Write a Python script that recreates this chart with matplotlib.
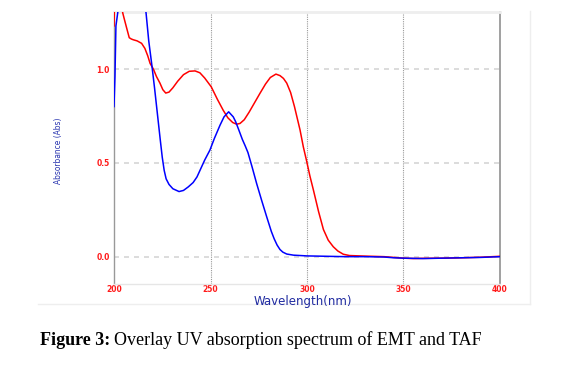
import matplotlib.pyplot as plt
from matplotlib.lines import Line2D

# Blue curve (EMT) - wavelength, nm / absorbance
emt_wl = [200.0, 200.5, 201.0, 202.2, 204.0, 208.0, 212.0, 215.0, 216.6, 218.0,
          219.5, 221.0, 222.5, 224.0, 225.0, 226.0, 227.0, 228.5, 230.5, 233.7,
          236.0, 238.5, 241.0, 243.0, 245.0, 247.0, 249.7, 252.0, 254.9, 257.0,
          259.4, 261.8, 263.0, 264.5, 266.5, 268.0, 269.4, 271.5, 273.9, 276.5,
          279.1, 281.5, 283.0, 284.5, 286.0, 287.5, 289.5, 293.0, 300.0, 310.0,
          320.0, 330.0, 340.0, 345.0, 350.0, 360.0, 370.0, 380.0, 390.0, 400.0]
emt_abs = [0.80, 0.96, 1.23, 1.32, 1.50, 1.60, 1.55, 1.40, 1.30, 1.15,
           1.03, 0.90, 0.76, 0.62, 0.53, 0.46, 0.415, 0.385, 0.362, 0.347,
           0.353, 0.372, 0.395, 0.425, 0.47, 0.515, 0.568, 0.63, 0.70, 0.745,
           0.772, 0.745, 0.72, 0.68, 0.625, 0.59, 0.555, 0.48, 0.39, 0.30,
           0.213, 0.135, 0.095, 0.062, 0.038, 0.024, 0.014, 0.008, 0.004, 0.002,
           0.0, 0.0, -0.002, -0.006, -0.008, -0.01, -0.008, -0.006, -0.004, 0.0]

# Red curve (TAF)
taf_wl = [200.0, 200.3, 202.0, 203.5, 204.5, 205.5, 206.6, 207.9, 209.0, 210.0,
          212.0, 214.3, 216.0, 217.5, 218.7, 220.4, 222.0, 223.8, 225.3, 226.8,
          228.5, 230.5, 233.0, 236.0, 239.0, 242.0, 244.5, 247.0, 250.4, 253.5,
          256.6, 259.0, 261.5, 263.5, 265.3, 267.5, 270.0, 272.8, 275.6, 278.5,
          281.0, 283.9, 286.0, 287.8, 289.5, 291.5, 293.5, 296.4, 298.1, 299.8,
          301.5, 303.3, 306.0, 308.5, 311.0, 313.6, 316.0, 318.8, 322.0, 330.0,
          340.0, 345.0, 350.0, 355.0, 360.0, 370.0, 380.0, 390.0, 400.0]
taf_abs = [1.23, 1.35, 1.55, 1.45, 1.30, 1.26, 1.217, 1.167, 1.16, 1.156,
           1.15, 1.137, 1.11, 1.07, 1.03, 1.00, 0.96, 0.925, 0.89, 0.872,
           0.877, 0.90, 0.935, 0.97, 0.988, 0.99, 0.98, 0.952, 0.905, 0.84,
           0.78, 0.74, 0.715, 0.706, 0.71, 0.73, 0.77, 0.82, 0.87, 0.92,
           0.955, 0.973, 0.965, 0.95, 0.925, 0.875, 0.80, 0.675, 0.585, 0.51,
           0.43, 0.356, 0.24, 0.145, 0.088, 0.053, 0.03, 0.013, 0.006, 0.003,
           0.0, -0.004, -0.008, -0.01, -0.009, -0.008, -0.006, -0.003, 0.002]

x_ticks = [200, 250, 300, 350, 400]
y_ticks = [0.0, 0.5, 1.0]

W, H = 568, 375
fig = plt.figure(figsize=(W / 100, H / 100), dpi=100)
ax = fig.add_axes([114 / W, 1 - 284 / H, 386 / W, 272 / H])

# Grid
for xv in x_ticks[1:-1]:
    ax.axvline(xv, color='#9a9a9a', linewidth=0.8, linestyle=(0, (1, 1)), zorder=1)
for yv in y_ticks:
    ax.axhline(yv, color='#d6d6d6', linewidth=1.2, linestyle=(0, (3, 3)), zorder=1)

ax.plot(taf_wl, taf_abs, color='#ff0000', linewidth=1.1, zorder=3)
ax.plot(emt_wl, emt_abs, color='#0000ff', linewidth=1.1, zorder=4)

ax.set_xlim(200, 400)
ax.set_ylim(-0.1457, 1.304)
ax.set_xticks(x_ticks)
ax.set_xticklabels([str(v) for v in x_ticks])
ax.set_yticks(y_ticks)
ax.set_yticklabels([f'{v:.1f}' for v in y_ticks])
ax.tick_params(length=0, labelcolor='#ff1a1a', labelsize=5.5)
ax.tick_params(axis='x', pad=1)
ax.tick_params(axis='y', pad=3)
for lab in ax.get_xticklabels() + ax.get_yticklabels():
    lab.set_fontweight('bold')

ax.spines['left'].set_color('#999999')
ax.spines['left'].set_linewidth(1.0)
ax.spines['right'].set_color('#999999')
ax.spines['right'].set_linewidth(1.3)
ax.spines['top'].set_color('#eeeeee')
ax.spines['top'].set_linewidth(2.0)
ax.spines['bottom'].set_color('#e6e6e6')
ax.spines['bottom'].set_linewidth(1.0)

fig.text(303 / W, 1 - 301 / H, 'Wavelength(nm)', color='#1f2aa0', fontsize=8.5,
         ha='center', va='center')
fig.text(58 / W, 1 - 151 / H, 'Absorbance (Abs)', color='#2a36b0', fontsize=6,
         rotation=90, ha='center', va='center',
         family=['Liberation Sans Narrow', 'DejaVu Sans'], fontstretch='condensed')

# outer frame of the instrument screenshot
fig.add_artist(Line2D([530 / W, 530 / W], [1 - 11 / H, 1 - 304 / H],
                      transform=fig.transFigure, color='#eeeeee', linewidth=1))
fig.add_artist(Line2D([38 / W, 530 / W], [1 - 304 / H, 1 - 304 / H],
                      transform=fig.transFigure, color='#eeeeee', linewidth=1))

# caption
bold = fig.text(40 / W, 1 - 345 / H, 'Figure 3:', fontsize=13, fontweight='bold',
                family='Liberation Serif', va='baseline', ha='left')
fig.canvas.draw()
bb = bold.get_window_extent()
fig.text((bb.x1 + 4) / W, 1 - 345 / H, 'Overlay UV absorption spectrum of EMT and TAF',
         fontsize=13, family='Liberation Serif', va='baseline', ha='left')

fig.savefig('out.png', dpi=100)
